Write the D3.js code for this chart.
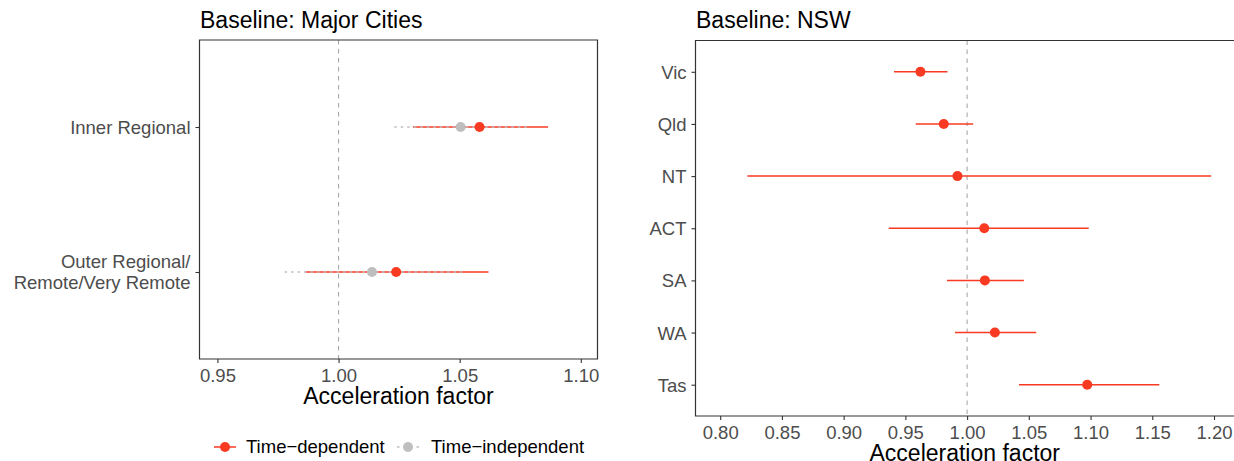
<!DOCTYPE html>
<html>
<head>
<meta charset="utf-8">
<script src="https://cdn.jsdelivr.net/npm/d3@7"></script>
<style>
  html, body { margin: 0; padding: 0; background: #fff; }
  svg { display: block; font-family: "Liberation Sans", Arial, Helvetica, sans-serif; }
</style>
</head>
<body>
<svg id="chart" width="1234" height="461"></svg>
<script>
// Remoteness comparison (baseline: Major Cities)
const regions = ["Inner Regional", "Outer Regional/\nRemote/Very Remote"];
const depEst = [1.0582, 1.0238];
const depLow = [1.0307, 0.9863];
const depHigh = [1.0865, 1.0619];
const indEst = [1.0504, 1.0138];
const indLow = [1.0230, 0.9777];
const indHigh = [1.0785, 1.0510];

// State comparison (baseline: NSW)
const states = ["Vic", "Qld", "NT", "ACT", "SA", "WA", "Tas"];
const stateEst = [0.9622, 0.9811, 0.9922, 1.0139, 1.0144, 1.0225, 1.0973];
const stateLow = [0.9408, 0.9584, 0.8220, 0.9365, 0.9837, 0.9902, 1.0420];
const stateHigh = [0.9841, 1.0049, 1.1977, 1.0985, 1.0460, 1.0560, 1.1557];

const leftTicks = [0.95, 1.00, 1.05, 1.10];
const rightTicks = [0.80, 0.85, 0.90, 0.95, 1.00, 1.05, 1.10, 1.15, 1.20];

const seriesNames = ["Time\u2212dependent", "Time\u2212independent"];

const RED = "#F93A22";
const GREY = "#BEBEBE";
const REF = "#A8A8A8";
const AXIS = "#333333";
const TICKTXT = "#4D4D4D";

const svg = d3.select("#chart");

function panel(opts) {
  const { x0, x1, y0, y1, domain, ticks, cats, title, rightBorder } = opts;
  const g = svg.append("g");
  const x = d3.scaleLinear().domain(domain).range([x0, x1]);
  const y = d3.scalePoint().domain(cats).range([y0, y1]).padding(0.6);

  // clip for marks
  const clipId = "clip" + Math.round(x0);
  svg.append("clipPath").attr("id", clipId)
    .append("rect").attr("x", x0).attr("y", y0).attr("width", x1 - x0).attr("height", y1 - y0);
  const plot = g.append("g").attr("clip-path", `url(#${clipId})`);

  // reference line at 1
  plot.append("line")
    .attr("x1", x(1)).attr("x2", x(1))
    .attr("y1", y0).attr("y2", y1)
    .attr("stroke", REF).attr("stroke-width", 1.1)
    .attr("stroke-dasharray", "4.5,4.5");

  // x axis
  const xa = g.append("g")
    .attr("transform", `translate(0,${y1})`)
    .call(d3.axisBottom(x).tickValues(ticks).tickFormat(d3.format(".2f")).tickSize(4).tickPadding(6));
  xa.select(".domain").remove();
  xa.selectAll(".tick line").attr("stroke", AXIS).attr("stroke-width", 1.1);
  xa.selectAll(".tick text").attr("fill", TICKTXT).attr("font-size", "18.5px")
    .attr("font-family", "Liberation Sans, Arial, sans-serif");

  // y axis
  const ya = g.append("g")
    .attr("transform", `translate(${x0},0)`)
    .call(d3.axisLeft(y).tickSize(4).tickPadding(5));
  ya.select(".domain").remove();
  ya.selectAll(".tick line").attr("stroke", AXIS).attr("stroke-width", 1.1);
  ya.selectAll(".tick text").each(function(d) {
    const t = d3.select(this);
    const lines = d.split("\n");
    t.text(null).attr("fill", TICKTXT).attr("font-size", "18.5px")
      .attr("font-family", "Liberation Sans, Arial, sans-serif").attr("dy", null);
    const lh = 21;
    lines.forEach((ln, i) => {
      t.append("tspan").attr("x", t.attr("x"))
        .attr("y", (i - (lines.length - 1) / 2) * lh)
        .attr("dy", "0.35em").text(ln);
    });
  });

  // panel border
  const border = g.append("path")
    .attr("fill", "none").attr("stroke", AXIS).attr("stroke-width", 1.2);
  if (rightBorder) {
    border.attr("d", `M${x0},${y0}H${x1}V${y1}H${x0}Z`);
  } else {
    border.attr("d", `M${x1 + 5},${y0}H${x0}V${y1}H${x1 + 5}`);
  }

  // title
  g.append("text").attr("x", x0 + 0.5).attr("y", 28)
    .attr("font-size", "23px").attr("fill", "#000").text(title);

  // axis title
  g.append("text").attr("x", (x0 + Math.min(x1, 1234)) / 2).attr("y", y1 + 45)
    .attr("text-anchor", "middle").attr("font-size", "23px").attr("fill", "#000")
    .text("Acceleration factor");

  return { x, y, plot };
}

// Left panel: remoteness
const L = panel({
  x0: 199.5, x1: 597.5, y0: 40, y1: 359,
  domain: [0.9426, 1.1069], ticks: leftTicks, cats: regions,
  title: "Baseline: Major Cities", rightBorder: true
});

const depRows = regions.map((r, i) => ({ cat: r, est: depEst[i], lo: depLow[i], hi: depHigh[i] }));
const indRows = regions.map((r, i) => ({ cat: r, est: indEst[i], lo: indLow[i], hi: indHigh[i] }));

// intervals: time-dependent first, time-independent over it
L.plot.selectAll("line.dep").data(depRows).join("line").attr("class", "dep")
  .attr("x1", d => L.x(d.lo)).attr("x2", d => L.x(d.hi))
  .attr("y1", d => L.y(d.cat)).attr("y2", d => L.y(d.cat))
  .attr("stroke", RED).attr("stroke-width", 1.5);
L.plot.selectAll("line.ind").data(indRows).join("line").attr("class", "ind")
  .attr("x1", d => L.x(d.lo)).attr("x2", d => L.x(d.hi))
  .attr("y1", d => L.y(d.cat)).attr("y2", d => L.y(d.cat))
  .attr("stroke", GREY).attr("stroke-width", 1.5).attr("stroke-dasharray", "2.5,4");
L.plot.selectAll("circle.dep").data(depRows).join("circle").attr("class", "dep")
  .attr("cx", d => L.x(d.est)).attr("cy", d => L.y(d.cat)).attr("r", 5).attr("fill", RED);
L.plot.selectAll("circle.ind").data(indRows).join("circle").attr("class", "ind")
  .attr("cx", d => L.x(d.est)).attr("cy", d => L.y(d.cat)).attr("r", 5).attr("fill", GREY);

// Right panel: states
const R = panel({
  x0: 695.5, x1: 1238.7, y0: 40.5, y1: 416,
  domain: [0.78, 1.22], ticks: rightTicks, cats: states,
  title: "Baseline: NSW", rightBorder: false
});

const stateRows = states.map((s, i) => ({ cat: s, est: stateEst[i], lo: stateLow[i], hi: stateHigh[i] }));
R.plot.selectAll("line.st").data(stateRows).join("line").attr("class", "st")
  .attr("x1", d => R.x(d.lo)).attr("x2", d => R.x(d.hi))
  .attr("y1", d => R.y(d.cat)).attr("y2", d => R.y(d.cat))
  .attr("stroke", RED).attr("stroke-width", 1.5);
R.plot.selectAll("circle.st").data(stateRows).join("circle").attr("class", "st")
  .attr("cx", d => R.x(d.est)).attr("cy", d => R.y(d.cat)).attr("r", 5).attr("fill", RED);

// Legend
const legend = svg.append("g").attr("transform", "translate(0,447)");
const keys = [
  { name: seriesNames[0], color: RED, dash: null, x: 214, tx: 246 },
  { name: seriesNames[1], color: GREY, dash: "2.5,4", x: 397, tx: 431 }
];
keys.forEach(k => {
  legend.append("line").attr("x1", k.x).attr("x2", k.x + 22).attr("y1", 0).attr("y2", 0)
    .attr("stroke", k.color).attr("stroke-width", 1.5).attr("stroke-dasharray", k.dash);
  legend.append("circle").attr("cx", k.x + 11).attr("cy", 0).attr("r", 5).attr("fill", k.color);
  legend.append("text").attr("x", k.tx).attr("y", 0).attr("dy", "0.35em")
    .attr("font-size", "18.5px").attr("fill", "#000").text(k.name);
});
</script>
</body>
</html>
